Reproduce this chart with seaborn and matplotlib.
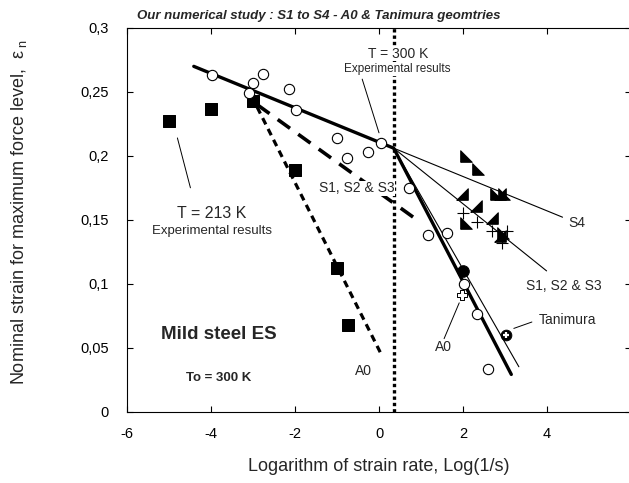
import matplotlib
matplotlib.use("Agg")
import matplotlib.pyplot as plt
import seaborn as sns
import numpy as np
import pandas as pd

# ---------------- data ----------------
sq213_x = [-5.0, -4.0, -3.0, -2.0, -1.0, -0.75]
sq213_y = [0.227, 0.237, 0.243, 0.189, 0.112, 0.068]

exp300_x = [-3.98, -3.09, -3.0, -2.77, -2.15, -1.97, -0.99, -0.77, -0.26, 0.04,
            0.72, 1.17, 1.61, 2.03, 2.33, 2.59]
exp300_y = [0.263, 0.249, 0.257, 0.264, 0.252, 0.236, 0.214, 0.198, 0.203, 0.210,
            0.175, 0.138, 0.140, 0.100, 0.076, 0.033]

fit300_x = [-4.41, 0.35, 3.15]
fit300_y = [0.270, 0.206, 0.029]
a0_line_x = [0.35, 3.33]
a0_line_y = [0.206, 0.035]
s4_line_x = [0.35, 4.37]
s4_line_y = [0.206, 0.152]
s123_line_x = [0.35, 3.99]
s123_line_y = [0.206, 0.110]
dash213_x = [-2.9, 0.9]
dash213_y = [0.240, 0.150]
dot213_x = [-2.9, 0.05]
dot213_y = [0.238, 0.045]
vline_x = 0.35

triA_x = [2.08, 2.36, 2.06, 2.78, 2.98, 2.95]
triA_y = [0.200, 0.190, 0.1475, 0.170, 0.170, 0.140]
triB_x = [1.98, 2.30, 2.69, 2.88, 2.88]
triB_y = [0.170, 0.161, 0.151, 0.170, 0.137]
cross_x = [2.01, 2.33, 2.69, 2.93, 3.05]
cross_y = [0.155, 0.1485, 0.141, 0.1316, 0.141]
a0sim_x, a0sim_y = [1.98], [0.091]
fill_x, fill_y = [2.0], [0.110]
tanimura_x, tanimura_y = [3.03], [0.060]

xticks = [-6, -4, -2, 0, 2, 4, 6]
xticklabels = ["-6", "-4", "-2", "0", "2", "4", ""]
yticks = [0, 0.05, 0.1, 0.15, 0.2, 0.25, 0.3]
yticklabels = ["0", "0,05", "0,1", "0,15", "0,2", "0,25", "0,3"]

# ---------------- style ----------------
sns.set_theme(style="ticks")
plt.rcParams['font.family'] = ['Liberation Sans', 'DejaVu Sans']
plt.rcParams['mathtext.fontset'] = 'custom'
plt.rcParams['mathtext.rm'] = 'Liberation Sans'
plt.rcParams['mathtext.it'] = 'Liberation Sans'

fig = plt.figure(figsize=(6.29, 4.83), dpi=100)
ax = fig.add_axes([127/629, 1-411.5/483, (631-127)/629, (411.5-28)/483])

def line(x, y, lw, ls='-'):
    sns.lineplot(x=x, y=y, ax=ax, color='black', lw=lw, linestyle=ls,
                 sort=False, estimator=None, legend=False, zorder=2)

line(fit300_x, fit300_y, 2.4)
line(a0_line_x, a0_line_y, 0.8)
line(s4_line_x, s4_line_y, 0.8)
line(s123_line_x, s123_line_y, 0.8)
line(dash213_x, dash213_y, 2.6, (0, (4.2, 2.8)))
line(dot213_x, dot213_y, 2.3, (0, (2.2, 1.6)))
ax.axvline(vline_x, color='black', lw=2.4, linestyle=(0, (1, 0.9)), zorder=2)

sns.scatterplot(x=sq213_x, y=sq213_y, ax=ax, marker='s', s=80, color='black',
                edgecolor='black', zorder=4)
sns.scatterplot(x=exp300_x, y=exp300_y, ax=ax, marker='o', s=55, facecolor='white',
                edgecolor='black', linewidth=0.8, zorder=4)
triA = [(-1, -1), (-1, 1), (1, -1), (-1, -1)]
triB = [(-1, -1), (1, -1), (1, 1), (-1, -1)]
sns.scatterplot(x=triA_x, y=triA_y, ax=ax, marker=triA, s=70, color='black',
                edgecolor='black', zorder=4)
sns.scatterplot(x=triB_x, y=triB_y, ax=ax, marker=triB, s=70, color='black',
                edgecolor='black', zorder=4)
sns.scatterplot(x=cross_x, y=cross_y, ax=ax, marker='+', s=80, color='black',
                linewidth=0.8, zorder=5)
sns.scatterplot(x=fill_x, y=fill_y, ax=ax, marker='o', s=70, color='black',
                edgecolor='black', zorder=5)
sns.scatterplot(x=a0sim_x, y=a0sim_y, ax=ax, marker='P', s=50, facecolor='white',
                edgecolor='black', linewidth=0.7, zorder=5)
sns.scatterplot(x=tanimura_x, y=tanimura_y, ax=ax, marker='o', s=60, color='black',
                edgecolor='black', zorder=5)
sns.scatterplot(x=tanimura_x, y=tanimura_y, ax=ax, marker='+', s=22, color='white',
                linewidth=1.6, zorder=6)

# ---------------- axes ----------------
ax.set_xlim(-6, 6)
ax.set_ylim(0, 0.3)
ax.set_xticks(xticks)
ax.set_xticklabels(xticklabels, fontsize=10.5)
ax.set_yticks(yticks)
ax.set_yticklabels(yticklabels, fontsize=10.5)
ax.tick_params(direction='in', length=4.5, width=0.8, top=True, right=True,
               labeltop=False, labelright=False, colors='black')
ax.tick_params(axis='x', pad=11)
ax.tick_params(axis='y', pad=13)
for sp in ax.spines.values():
    sp.set_visible(True)
    sp.set_linewidth(0.8)
    sp.set_color('black')

ax.set_xlabel("Logarithm of strain rate, Log(1/s)", fontsize=13)
ax.set_ylabel("Nominal strain for maximum force level,  ε$_{\\ n}$", fontsize=13)
ax.yaxis.label.set_verticalalignment('center')
ax.xaxis.set_label_coords(0.5, -0.121)
ax.yaxis.set_label_coords(-0.214, 0.52)

# ---------------- annotations ----------------
wb = dict(facecolor='white', edgecolor='none', pad=0.5)
ax.text(-3.98, 0.155, "T = 213 K", fontsize=11.5, ha='center', va='center')
ax.text(-3.98, 0.1415, "Experimental results", fontsize=9.5, ha='center', va='center')
ax.plot([-4.8, -4.49], [0.214, 0.175], color='black', lw=0.7)

ax.text(0.45, 0.280, "T = 300 K", fontsize=10, ha='center', va='center', bbox=wb, zorder=3)
ax.text(0.43, 0.268, "Experimental results", fontsize=8.5, ha='center', va='center',
        bbox=wb, zorder=3)
ax.plot([-0.4, 0.0], [0.260, 0.218], color='black', lw=0.7)

ax.text(-0.54, 0.1746, "S1, S2 & S3", fontsize=10, ha='center', va='center',
        bbox=wb, zorder=3)
ax.text(-0.37, 0.032, "A0", fontsize=10, ha='center', va='center')

ax.text(4.72, 0.1475, "S4", fontsize=10, ha='center', va='center')
ax.text(4.41, 0.098, "S1, S2 & S3", fontsize=10, ha='center', va='center')
ax.text(3.8, 0.0714, "Tanimura", fontsize=10, ha='left', va='center')
ax.plot([3.21, 3.64], [0.065, 0.070], color='black', lw=0.7)
ax.text(1.54, 0.0507, "A0", fontsize=10, ha='center', va='center')
ax.plot([1.91, 1.55], [0.085, 0.057], color='black', lw=0.7)

ax.text(-3.81, 0.060, "Mild steel ES", fontsize=13.5, fontweight='bold',
        ha='center', va='center')
ax.text(-3.82, 0.026, "To = 300 K", fontsize=9.5, fontweight='bold',
        ha='center', va='center')

fig.text(137/629, 1-16/483, "Our numerical study : S1 to S4 - A0 & Tanimura geomtries",
         fontsize=9.5, fontweight='bold', fontstyle='italic', ha='left', va='center')

fig.savefig("out.png", dpi=100)
